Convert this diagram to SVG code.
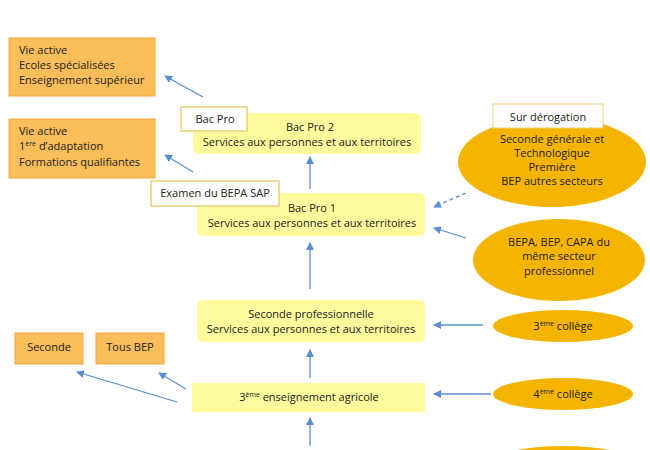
<svg xmlns="http://www.w3.org/2000/svg" width="650" height="450" viewBox="0 0 650 450">
<style>
text{font-family:"Open Sans","Liberation Sans",sans-serif;font-size:11px;fill:#222}
.o{fill:#f9bd5a;stroke:#f3a83a;stroke-width:1}
.y{fill:#fdfb9c}
.e{fill:#f5b400}
.l{fill:#fff;stroke:#ead07a;stroke-width:1.5}
.c{stroke:#5b8ed0;stroke-width:1.3;fill:none;marker-end:url(#a)}
.m{text-anchor:middle}
</style>
<defs><marker id="a" markerWidth="8" markerHeight="8" refX="7" refY="4" orient="auto" markerUnits="userSpaceOnUse"><path d="M0,0 L8,4 L0,8 z" fill="#5b8ed0"/></marker></defs>
<rect width="650" height="450" fill="#fff"/>
<g id="n-vie1"><rect class="o" x="9" y="38" width="146" height="58"/><text x="19" y="54">Vie active</text><text x="19" y="69">Ecoles spécialisées</text><text x="19" y="84">Enseignement supérieur</text></g>
<g id="n-vie2"><rect class="o" x="9" y="119" width="146" height="59"/><text x="19" y="135">Vie active</text><text x="19" y="150">1<tspan font-size="7" dy="-4">ère</tspan><tspan dy="4"> d’adaptation</tspan></text><text x="19" y="166">Formations qualifiantes</text></g>
<g id="n-seconde"><rect class="o" x="15" y="333" width="68" height="31"/><text class="m" x="49" y="351">Seconde</text></g>
<g id="n-tousbep"><rect class="o" x="96" y="333" width="68" height="31"/><text class="m" x="130" y="351">Tous BEP</text></g>
<g id="n-bacpro2"><rect class="y" x="193" y="113" width="228" height="41" rx="6"/><text class="m" x="310" y="131">Bac Pro 2</text><text class="m" x="307" y="146">Services aux personnes et aux territoires</text></g>
<g id="n-bacpro1"><rect class="y" x="197" y="193" width="228" height="43" rx="6"/><text class="m" x="312" y="212">Bac Pro 1</text><text class="m" x="312" y="227">Services aux personnes et aux territoires</text></g>
<g id="n-secpro"><rect class="y" x="197" y="300" width="228" height="42" rx="6"/><text class="m" x="311" y="318">Seconde professionnelle</text><text class="m" x="311" y="333">Services aux personnes et aux territoires</text></g>
<g id="n-3agri"><rect class="y" x="192" y="383" width="233" height="29"/><text class="m" x="309" y="401">3<tspan font-size="7" dy="-4">ème</tspan><tspan dy="4"> enseignement agricole</tspan></text></g>
<g id="n-label-bacpro"><rect class="l" x="181" y="107" width="66" height="24"/><text class="m" x="215" y="123">Bac Pro</text></g>
<g id="n-label-examen"><rect class="l" x="151" y="181" width="128" height="25"/><text class="m" x="215" y="197">Examen du BEPA SAP</text></g>
<g id="n-e1"><ellipse class="e" cx="552" cy="162" rx="94" ry="45"/><text class="m" x="552" y="143">Seconde générale  et</text><text class="m" x="552" y="157">Technologique</text><text class="m" x="552" y="171">Première</text><text class="m" x="552" y="185">BEP autres secteurs</text></g>
<g id="n-derog"><rect x="493" y="104" width="110" height="24" fill="#fff" stroke="#ead07a"/><text class="m" x="548" y="121">Sur dérogation</text></g>
<g id="n-e2"><ellipse class="e" cx="559" cy="260" rx="86" ry="41"/><text class="m" x="559" y="246">BEPA, BEP, CAPA du</text><text class="m" x="559" y="260">même secteur</text><text class="m" x="559" y="275">professionnel</text></g>
<g id="n-3col"><ellipse class="e" cx="563" cy="326" rx="70" ry="16"/><text class="m" x="563" y="330">3<tspan font-size="7" dy="-4">ème</tspan><tspan dy="4"> collège</tspan></text></g>
<g id="n-4col"><ellipse class="e" cx="563" cy="394" rx="70" ry="16"/><text class="m" x="563" y="398">4<tspan font-size="7" dy="-4">ème</tspan><tspan dy="4"> collège</tspan></text></g>
<g id="n-bottom"><ellipse class="e" cx="563" cy="462" rx="70" ry="16"/></g>
<g id="connectors">
<line class="c" x1="203" y1="97" x2="165" y2="76"/>
<line class="c" x1="193" y1="172" x2="165" y2="155"/>
<line class="c" x1="310" y1="189" x2="310" y2="157"/>
<line class="c" x1="310" y1="289" x2="310" y2="243"/>
<line class="c" x1="310" y1="378" x2="310" y2="350"/>
<line class="c" x1="310" y1="446" x2="310" y2="418"/>
<line class="c" x1="466" y1="193" x2="434" y2="207" stroke-dasharray="4,3"/>
<line class="c" x1="466" y1="238" x2="434" y2="228"/>
<line class="c" x1="483" y1="325" x2="434" y2="325"/>
<line class="c" x1="491" y1="394" x2="434" y2="394"/>
<line class="c" x1="177" y1="402" x2="77" y2="372"/>
<line class="c" x1="186" y1="389" x2="159" y2="373"/>
</g>
</svg>
